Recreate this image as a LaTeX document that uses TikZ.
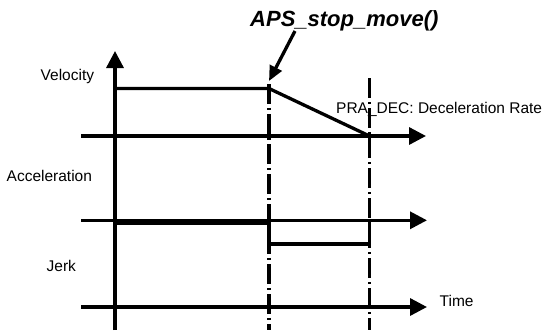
\documentclass[tikz,border=0pt]{standalone}
\usepackage{fontspec}
\setmainfont{Liberation Sans}
\usetikzlibrary{arrows.meta}
\begin{document}
\begin{tikzpicture}[x=1pt,y=-1pt,
  axis/.style={line width=3.3pt,-{Triangle[length=17pt,width=17pt]}},
  plain/.style={line width=3.3pt},
  marker/.style={line width=3.2pt,dash pattern=on 20pt off 4pt on 2pt off 4pt},
  call/.style={line width=3.3pt,-{Triangle[length=15pt,width=13pt]}},
  lbl/.style={inner sep=0pt,anchor=base west,font=\fontsize{15.5}{18}\selectfont},
  title/.style={inner sep=0pt,anchor=base west,font=\fontsize{22}{26}\selectfont\bfseries\itshape}]
\useasboundingbox (0,0) rectangle (549,330);
% coordinates
\coordinate (vbot) at (115,330);
\coordinate (vtop) at (115,51);
\coordinate (velL) at (81,136);
\coordinate (velR) at (426,136);
\coordinate (accL) at (81,220.3);
\coordinate (accR) at (427,220.3);
\coordinate (timL) at (81,307);
\coordinate (timR) at (427,307);
\coordinate (v0) at (115,88.5);
\coordinate (v1) at (269,88.5);
\coordinate (v2) at (369.5,136);
\coordinate (a0) at (115,223);
\coordinate (a1) at (269,223);
\coordinate (a2) at (269,244);
\coordinate (a3) at (369.5,244);
\coordinate (a4) at (369.5,223);
\coordinate (m1t) at (269,84);
\coordinate (m1b) at (269,330);
\coordinate (m2t) at (369.5,78);
\coordinate (m2b) at (369.5,330);
\coordinate (cs) at (295,31);
\coordinate (ce) at (269,81);
% labels
\node[lbl] (tv) at (40.5,80) {Velocity};
\node[lbl] (ta) at (6.5,181) {Acceleration};
\node[lbl] (tj) at (46.5,271.5) {Jerk};
\node[lbl] (tt) at (439.5,306.7) {Time};
\node[lbl] (tp) at (336,113.3) {PRA\_DEC: Deceleration Rate};
\node[title] (tc) at (250,26.7) {APS\_stop\_move()};
% axes
\draw[axis] (vbot) -- (vtop);
\draw[axis] (velL) -- (velR);
\draw[axis] (accL) -- (accR);
\draw[axis] (timL) -- (timR);
% profiles
\draw[plain,line join=miter] (v0) -- (v1) -- (v2);
\draw[line width=4pt] (a0) -- (a1);
\draw[plain,line join=miter] (a1) -- (a2) -- (a3) -- (a4);
% markers
\draw[marker] (m1t) -- (m1b);
\draw[marker] (m2t) -- (m2b);
% call arrow
\draw[call] (cs) -- (ce);
\end{tikzpicture}
\end{document}
